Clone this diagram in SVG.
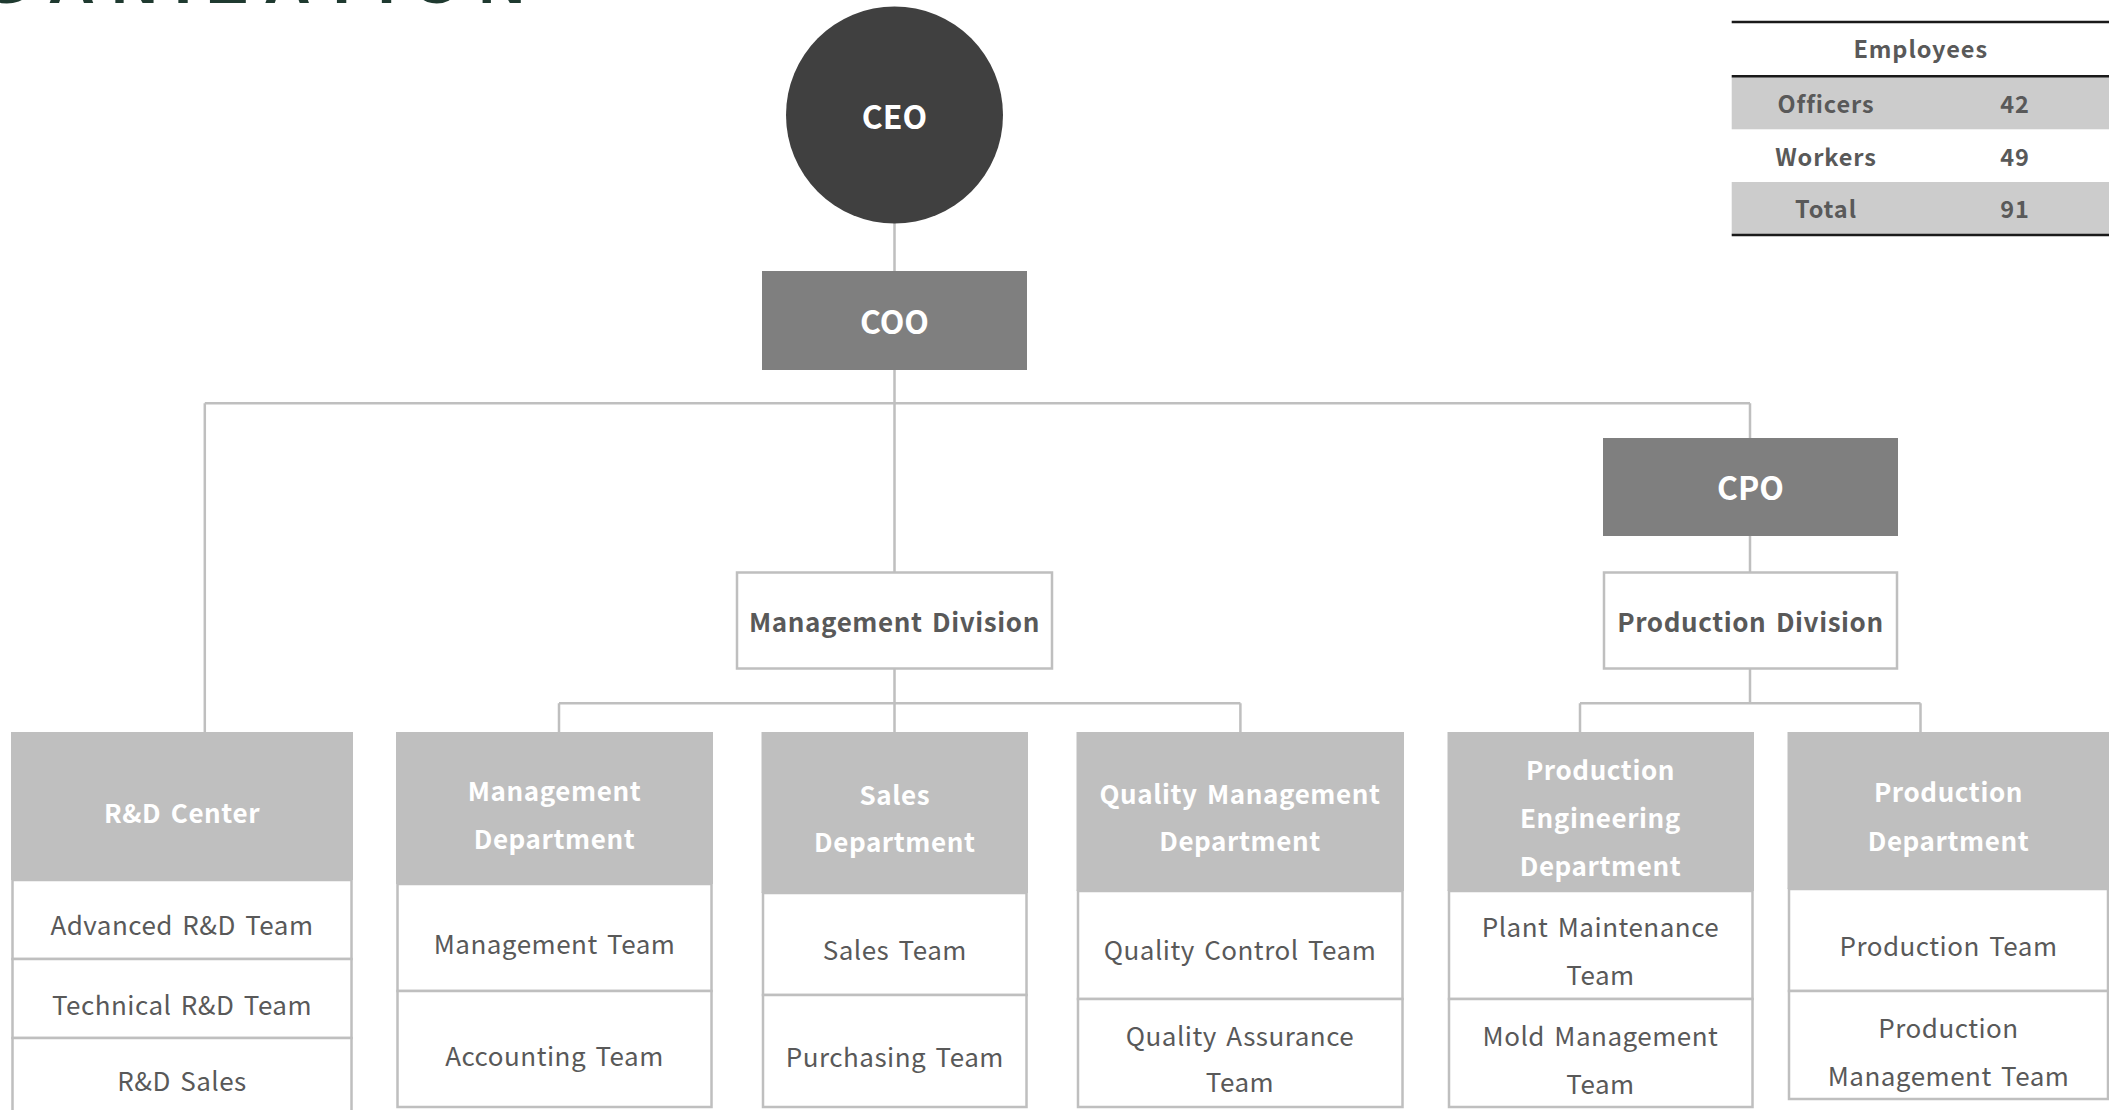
<svg xmlns="http://www.w3.org/2000/svg" width="2109" height="1110" viewBox="0 0 2109 1110">
<style>
.bg{fill:#ffffff}
.conn{stroke:#bfbfbf;stroke-width:2.5;fill:none}
.hdr{fill:#bfbfbf}
.cell{fill:#ffffff;stroke:#bfbfbf;stroke-width:2.5}
.div{fill:#ffffff;stroke:#bfbfbf;stroke-width:2.5}
.exec{fill:#7f7f7f}
.t{font-family:"Noto Sans CJK KR","Noto Sans",sans-serif;text-anchor:middle}
.wb{fill:#ffffff;font-weight:bold;font-size:26px;letter-spacing:0.6px;word-spacing:3px}
.big{fill:#ffffff;font-weight:bold;font-size:32px}
.team{fill:#595959;font-size:26px;letter-spacing:0.5px;word-spacing:3px}
.dv{fill:#595959;font-weight:bold;font-size:26px;letter-spacing:0.6px;word-spacing:3px}
.tb{fill:#595959;font-weight:bold;font-size:23.5px;letter-spacing:0.9px}
.rule{stroke:#1a1a1a;stroke-width:2.5}
</style>
<rect class="bg" x="0" y="0" width="2109" height="1110"/>
<text x="-148" y="3" font-family="Liberation Sans, Arial, sans-serif" font-weight="bold" font-size="65" letter-spacing="16" fill="#1f3a30">ORGANIZATION</text>

<g id="connectors">
<path class="conn" d="M894.5 223V271M894.5 370V572M204.8 403.3H1750M204.8 403.3V732M1750 403.3V438M1750 536V572M894.5 669V732M559 703.3H1240.4M559 703.3V732M1240.4 703.3V732M1750 669V703.3M1580 703.3H1920.5M1580 703.3V732M1920.5 703.3V732"/>
</g>

<g id="ceo">
<circle cx="894.5" cy="115" r="108.5" fill="#404040"/>
<text class="t big" x="894.5" y="129.4">CEO</text>
</g>
<g id="coo">
<rect class="exec" x="762" y="271" width="265" height="99"/>
<text class="t big" x="894.5" y="334.4">COO</text>
</g>
<g id="cpo">
<rect class="exec" x="1603" y="438" width="295" height="98"/>
<text class="t big" x="1750.5" y="500">CPO</text>
</g>
<g id="management-division">
<rect class="div" x="737" y="572.5" width="315" height="96"/>
<text class="t dv" x="894.5" y="632.3">Management Division</text>
</g>
<g id="production-division">
<rect class="div" x="1604" y="572.5" width="293" height="96"/>
<text class="t dv" x="1750.5" y="632.3">Production Division</text>
</g>

<g id="rd-center">
<rect class="cell" x="12.5" y="880" width="339" height="79"/>
<rect class="cell" x="12.5" y="959" width="339" height="79"/>
<rect class="cell" x="12.5" y="1038" width="339" height="90"/>
<rect class="hdr" x="11" y="732" width="342" height="148"/>
<text class="t wb" x="182" y="822.5">R&amp;D Center</text>
<text class="t team" x="182" y="935">Advanced R&amp;D Team</text>
<text class="t team" x="182" y="1015">Technical R&amp;D Team</text>
<text class="t team" x="182" y="1091">R&amp;D Sales</text>
</g>

<g id="management-department">
<rect class="cell" x="397.5" y="884" width="314" height="107"/>
<rect class="cell" x="397.5" y="991" width="314" height="116"/>
<rect class="hdr" x="396" y="732" width="317" height="152"/>
<text class="t wb" x="554.5" y="800.5">Management</text>
<text class="t wb" x="554.5" y="848.5">Department</text>
<text class="t team" x="554.5" y="953.5">Management Team</text>
<text class="t team" x="554.5" y="1065.5">Accounting Team</text>
</g>

<g id="sales-department">
<rect class="cell" x="763" y="893" width="263.5" height="102"/>
<rect class="cell" x="763" y="995" width="263.5" height="112"/>
<rect class="hdr" x="761.5" y="732" width="266.5" height="161"/>
<text class="t wb" x="894.8" y="804.5">Sales</text>
<text class="t wb" x="894.8" y="852">Department</text>
<text class="t team" x="894.8" y="959.5">Sales Team</text>
<text class="t team" x="894.8" y="1067">Purchasing Team</text>
</g>

<g id="quality-management-department">
<rect class="cell" x="1078" y="891" width="324.5" height="108"/>
<rect class="cell" x="1078" y="999" width="324.5" height="108"/>
<rect class="hdr" x="1076.5" y="732" width="327.5" height="159"/>
<text class="t wb" x="1240" y="803.5">Quality Management</text>
<text class="t wb" x="1240" y="850.5">Department</text>
<text class="t team" x="1240" y="959.5">Quality Control Team</text>
<text class="t team" x="1240" y="1045.5">Quality Assurance</text>
<text class="t team" x="1240" y="1092">Team</text>
</g>

<g id="production-engineering-department">
<rect class="cell" x="1449" y="891" width="303.5" height="108"/>
<rect class="cell" x="1449" y="999" width="303.5" height="108"/>
<rect class="hdr" x="1447.5" y="732" width="306.5" height="159"/>
<text class="t wb" x="1600.5" y="779.8">Production</text>
<text class="t wb" x="1600.5" y="828.2">Engineering</text>
<text class="t wb" x="1600.5" y="875.5">Department</text>
<text class="t team" x="1600.5" y="936.5">Plant Maintenance</text>
<text class="t team" x="1600.5" y="984.5">Team</text>
<text class="t team" x="1600.5" y="1045.5">Mold Management</text>
<text class="t team" x="1600.5" y="1093.5">Team</text>
</g>

<g id="production-department">
<rect class="cell" x="1789" y="889" width="319" height="102"/>
<rect class="cell" x="1789" y="991" width="319" height="108"/>
<rect class="hdr" x="1787.5" y="732" width="322" height="157"/>
<text class="t wb" x="1948.5" y="802">Production</text>
<text class="t wb" x="1948.5" y="850.5">Department</text>
<text class="t team" x="1948.5" y="955.5">Production Team</text>
<text class="t team" x="1948.5" y="1037.5">Production</text>
<text class="t team" x="1948.5" y="1085.5">Management Team</text>
</g>

<g id="employees-table">
<rect x="1731.7" y="77" width="377.3" height="52.3" fill="#cccccc"/>
<rect x="1731.7" y="182" width="377.3" height="52.3" fill="#cccccc"/>
<line class="rule" x1="1731.7" y1="22" x2="2109" y2="22"/>
<line class="rule" x1="1731.7" y1="76.3" x2="2109" y2="76.3"/>
<line class="rule" x1="1731.7" y1="235" x2="2109" y2="235"/>
<text class="t tb" x="1920.7" y="58.3">Employees</text>
<text class="t tb" x="1826" y="113.3">Officers</text>
<text class="t tb" x="2015" y="113.3">42</text>
<text class="t tb" x="1826" y="165.7">Workers</text>
<text class="t tb" x="2015" y="165.7">49</text>
<text class="t tb" x="1826" y="218.3">Total</text>
<text class="t tb" x="2015" y="218.3">91</text>
</g>
</svg>
